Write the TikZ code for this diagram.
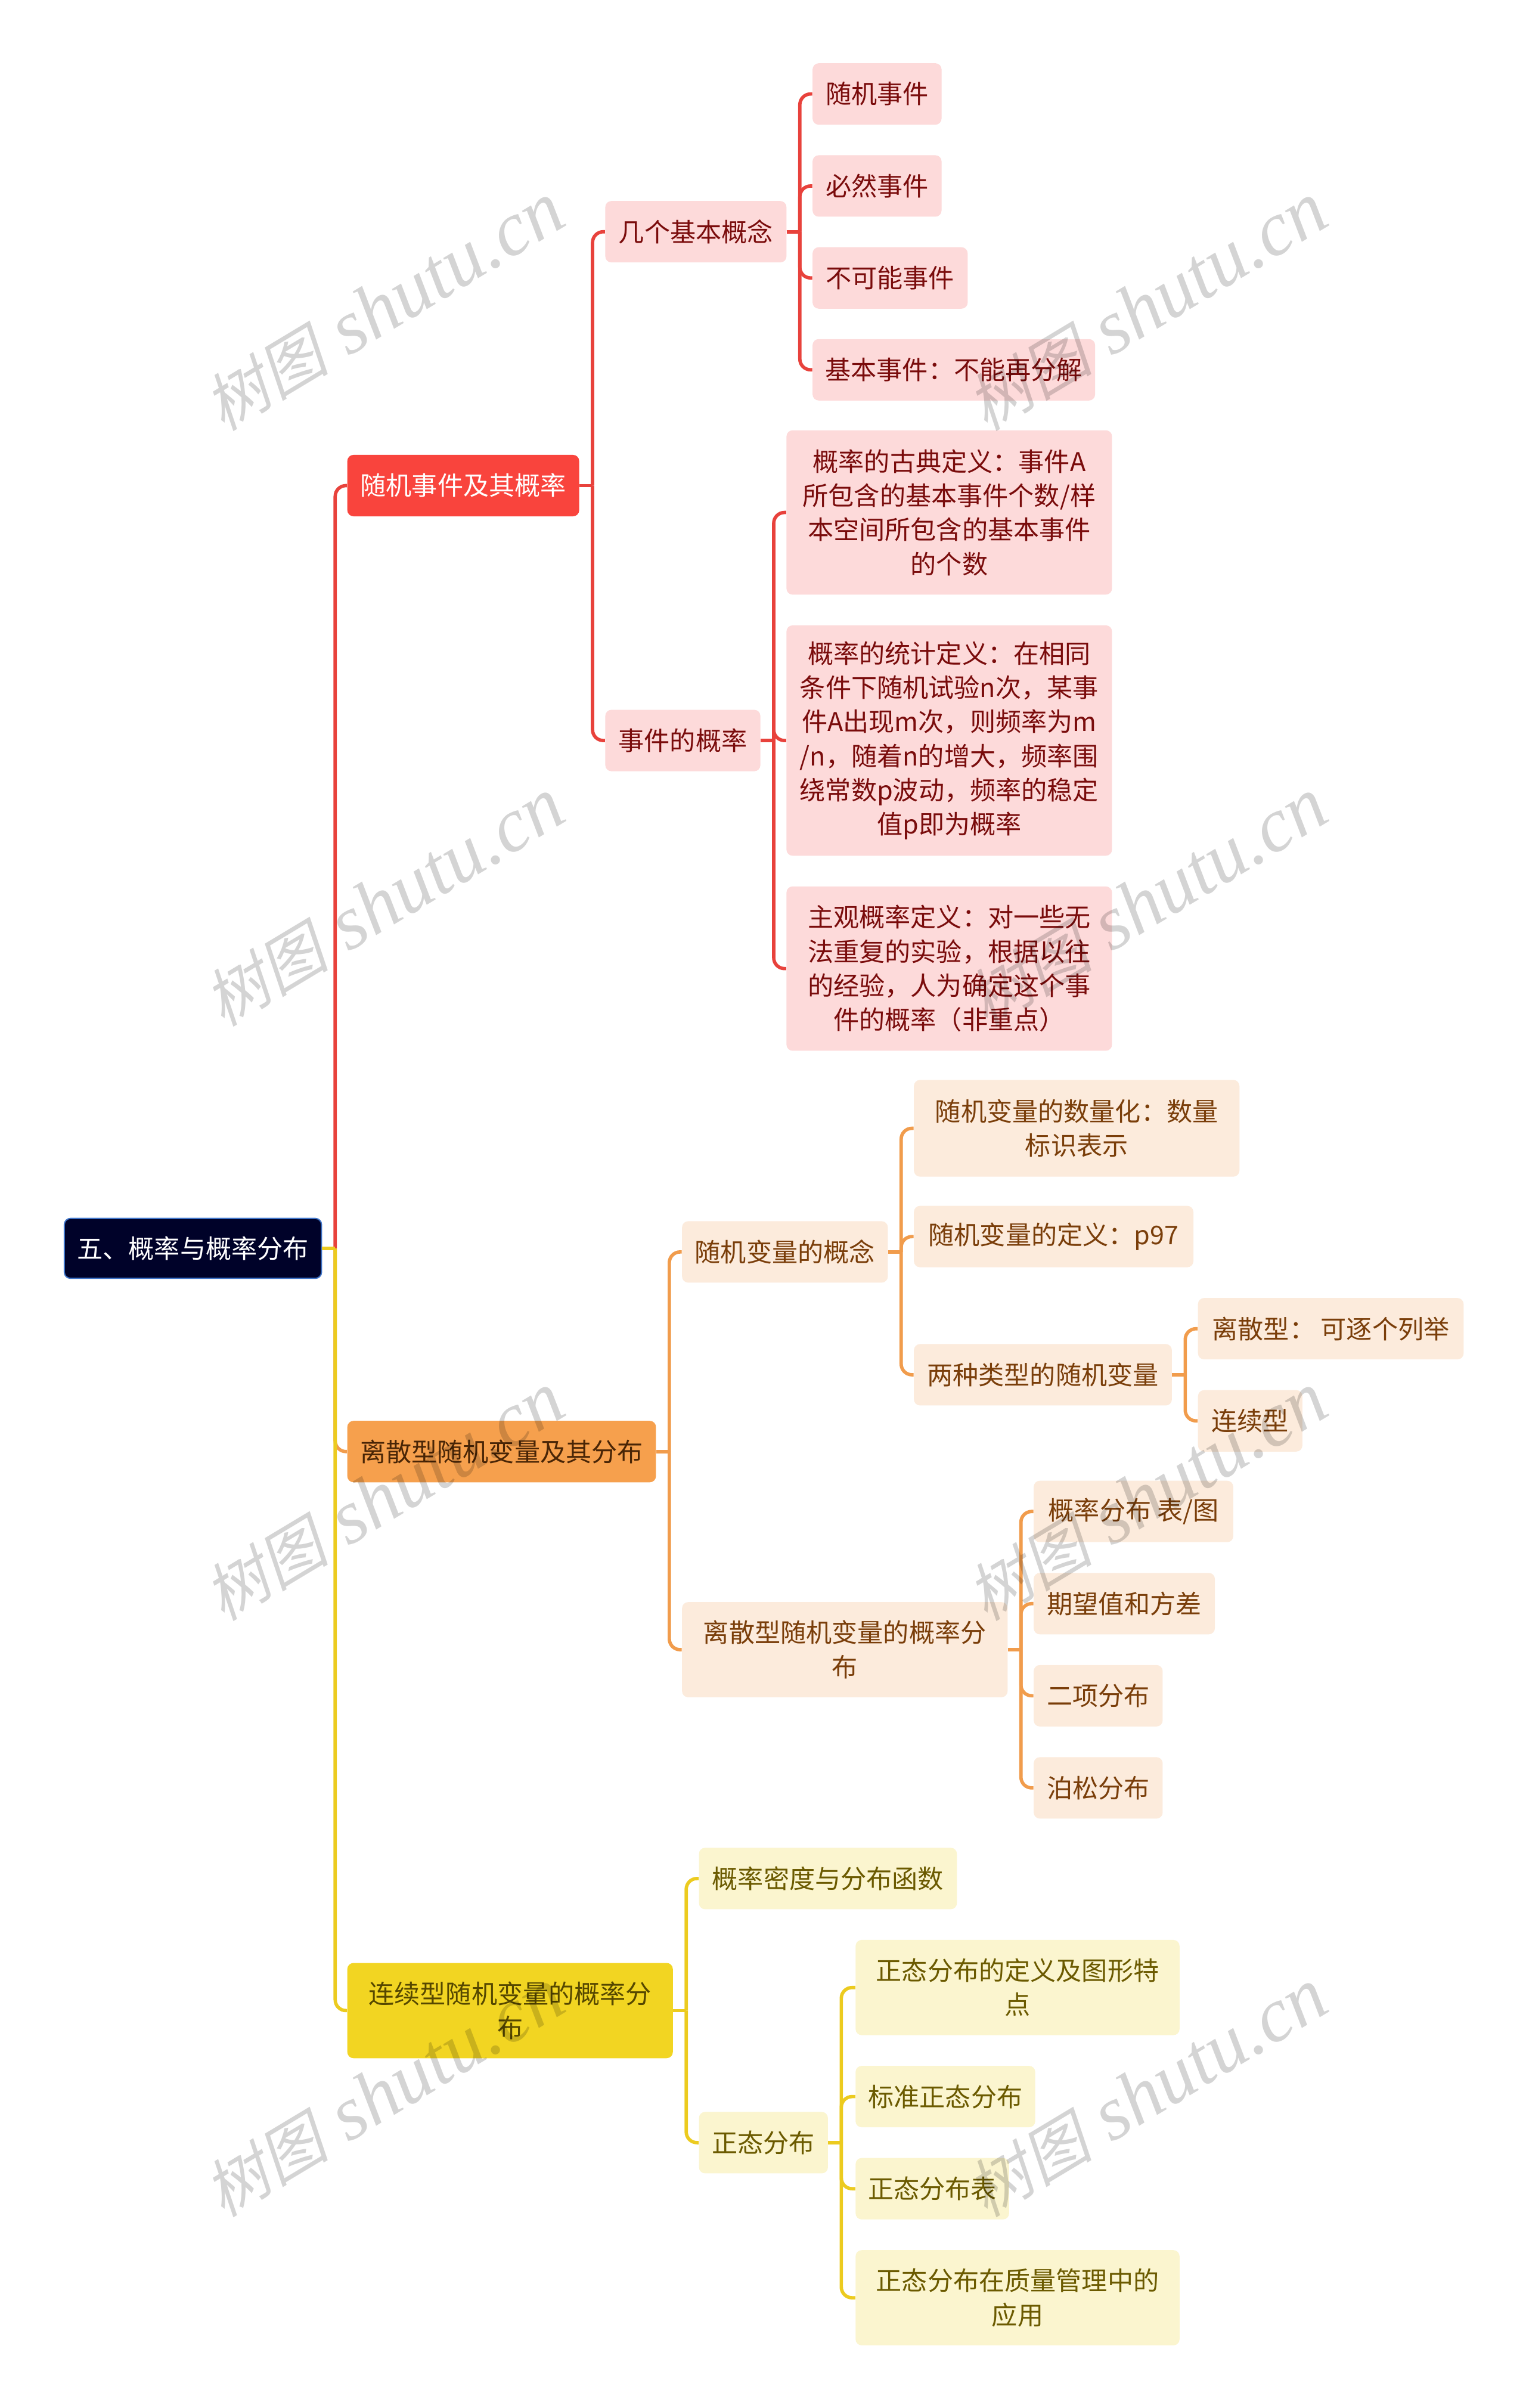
\documentclass[tikz,border=0pt]{standalone}
\usepackage{fontspec}
\setmainfont{Noto Sans CJK SC}
\newfontfamily\wmcjk[FakeSlant=0.22]{Noto Sans CJK SC}
\newfontfamily\wmlat{Liberation Serif}
\definecolor{linered}{HTML}{E8423C}
\definecolor{lineorange}{HTML}{F19C4C}
\definecolor{lineyellow}{HTML}{ECCB1F}
\definecolor{rootfill}{HTML}{000229}
\definecolor{rootedge}{HTML}{3F74C8}
\definecolor{redfill}{HTML}{F9443D}
\definecolor{orangefill}{HTML}{F6A04D}
\definecolor{yellowfill}{HTML}{F2D522}
\definecolor{redlight}{HTML}{FDDADA}
\definecolor{orangelight}{HTML}{FCEBDC}
\definecolor{yellowlight}{HTML}{FBF5CF}
\definecolor{redtext}{HTML}{7A0C0C}
\definecolor{orangetext}{HTML}{7A3E0A}
\definecolor{yellowtext}{HTML}{6B5A00}
\tikzset{
  bx/.style={rounded corners=4pt,inner sep=0pt,align=center,anchor=north west,
    font=\fontsize{16.75pt}{22.25pt}\selectfont},
  rootbox/.style={bx,fill=rootfill,draw=rootedge,line width=0.8pt,text=white},
  redmain/.style={bx,fill=redfill,text=white},
  orangemain/.style={bx,fill=orangefill,text=orangetext!60!black},
  yellowmain/.style={bx,fill=yellowfill,text=yellowtext!80!black},
  redsub/.style={bx,fill=redlight,text=redtext},
  orangesub/.style={bx,fill=orangelight,text=orangetext},
  yellowsub/.style={bx,fill=yellowlight,text=yellowtext},
  edge/.style={line width=2.2pt},
  wm/.style={rotate=31,text=black,opacity=0.17,inner sep=0pt},
}
% name, x0, y0, x1, y1, style, text
\newcommand{\bx}[7]{\node[#6,minimum width={(#4-#2)*1pt},minimum height={(#5-#3)*1pt}] (#1) at (#2,#3) {#7};}
% colour, parent, child
\newcommand{\conn}[3]{%
  \draw[edge,draw=#1] (#2.east) -- ++(8.5,0) coordinate (t);
  \draw[edge,draw=#1,rounded corners=7pt] (t) |- (#3.west);}
\newcommand{\wmark}[3]{\node[wm] (#1) at (#2,#3) {{\fontsize{41pt}{41pt}\wmcjk 树图}\hspace{13pt}{\fontsize{50pt}{50pt}\wmlat\itshape shutu.cn}};}
\begin{document}
\begin{tikzpicture}[x=1pt,y=-1pt]
\useasboundingbox (0,0) rectangle (993.8,1568);
\fill[white] (0,0) rectangle (993.8,1568);
\bx{root}{41.5}{793}{209}{832}{rootbox}{五、概率与概率分布}
\bx{A}{226}{296}{377}{336}{redmain}{随机事件及其概率}
\bx{Aa}{394}{130.7}{512}{170.7}{redsub}{几个基本概念}
\bx{Aa1}{529}{41}{613}{81}{redsub}{随机事件}
\bx{Aa2}{529}{100.9}{613}{140.9}{redsub}{必然事件}
\bx{Aa3}{529}{160.8}{630}{200.8}{redsub}{不可能事件}
\bx{Aa4}{529}{220.6}{713}{260.6}{redsub}{基本事件：不能再分解}
\bx{Ab}{394}{462}{495}{502}{redsub}{事件的概率}
\bx{Ab1}{512}{280}{724}{387}{redsub}{概率的古典定义：事件A\\所包含的基本事件个数/样\\本空间所包含的基本事件\\的个数}
\bx{Ab2}{512}{407}{724}{557}{redsub}{概率的统计定义：在相同\\条件下随机试验n次，某事\\件A出现m次，则频率为m\\/n，随着n的增大，频率围\\绕常数p波动，频率的稳定\\值p即为概率}
\bx{Ab3}{512}{577}{724}{684}{redsub}{主观概率定义：对一些无\\法重复的实验，根据以往\\的经验，人为确定这个事\\件的概率（非重点）}
\bx{B}{226}{925}{427}{965}{orangemain}{离散型随机变量及其分布}
\bx{Ba}{444}{795}{578}{835}{orangesub}{随机变量的概念}
\bx{Ba1}{595}{703}{807}{766}{orangesub}{随机变量的数量化：数量\\标识表示}
\bx{Ba2}{595}{785}{777}{825}{orangesub}{随机变量的定义：p97}
\bx{Ba3}{595}{875}{763}{915}{orangesub}{两种类型的随机变量}
\bx{Ba3a}{780}{845}{953}{885}{orangesub}{离散型：\ 可逐个列举}
\bx{Ba3b}{780}{905}{848}{945}{orangesub}{连续型}
\bx{Bb}{444}{1043}{656}{1105}{orangesub}{离散型随机变量的概率分\\布}
\bx{Bb1}{673}{964}{803}{1004}{orangesub}{概率分布 表/图}
\bx{Bb2}{673}{1024}{791}{1064}{orangesub}{期望值和方差}
\bx{Bb3}{673}{1084}{757}{1124}{orangesub}{二项分布}
\bx{Bb4}{673}{1144}{757}{1184}{orangesub}{泊松分布}
\bx{C}{226}{1278}{438}{1340}{yellowmain}{连续型随机变量的概率分\\布}
\bx{Ca}{455}{1203}{623}{1243}{yellowsub}{概率密度与分布函数}
\bx{Cb}{455}{1375}{539}{1415}{yellowsub}{正态分布}
\bx{Cb1}{557}{1263}{768}{1325}{yellowsub}{正态分布的定义及图形特\\点}
\bx{Cb2}{557}{1345}{674}{1385}{yellowsub}{标准正态分布}
\bx{Cb3}{557}{1405}{657}{1445}{yellowsub}{正态分布表}
\bx{Cb4}{557}{1465}{768}{1527}{yellowsub}{正态分布在质量管理中的\\应用}
\conn{linered}{root}{A}
\conn{lineorange}{root}{B}
\conn{lineyellow}{root}{C}
\conn{linered}{A}{Aa}
\conn{linered}{A}{Ab}
\conn{linered}{Aa}{Aa1}
\conn{linered}{Aa}{Aa2}
\conn{linered}{Aa}{Aa3}
\conn{linered}{Aa}{Aa4}
\conn{linered}{Ab}{Ab1}
\conn{linered}{Ab}{Ab2}
\conn{linered}{Ab}{Ab3}
\conn{lineorange}{B}{Ba}
\conn{lineorange}{B}{Bb}
\conn{lineorange}{Ba}{Ba1}
\conn{lineorange}{Ba}{Ba2}
\conn{lineorange}{Ba}{Ba3}
\conn{lineorange}{Ba3}{Ba3a}
\conn{lineorange}{Ba3}{Ba3b}
\conn{lineorange}{Bb}{Bb1}
\conn{lineorange}{Bb}{Bb2}
\conn{lineorange}{Bb}{Bb3}
\conn{lineorange}{Bb}{Bb4}
\conn{lineyellow}{C}{Ca}
\conn{lineyellow}{C}{Cb}
\conn{lineyellow}{Cb}{Cb1}
\conn{lineyellow}{Cb}{Cb2}
\conn{lineyellow}{Cb}{Cb3}
\conn{lineyellow}{Cb}{Cb4}
\wmark{w1}{250}{200}
\wmark{w2}{747}{200}
\wmark{w3}{250}{588}
\wmark{w4}{747}{588}
\wmark{w5}{250}{975}
\wmark{w6}{747}{975}
\wmark{w7}{250}{1363}
\wmark{w8}{747}{1363}
\end{tikzpicture}
\end{document}
